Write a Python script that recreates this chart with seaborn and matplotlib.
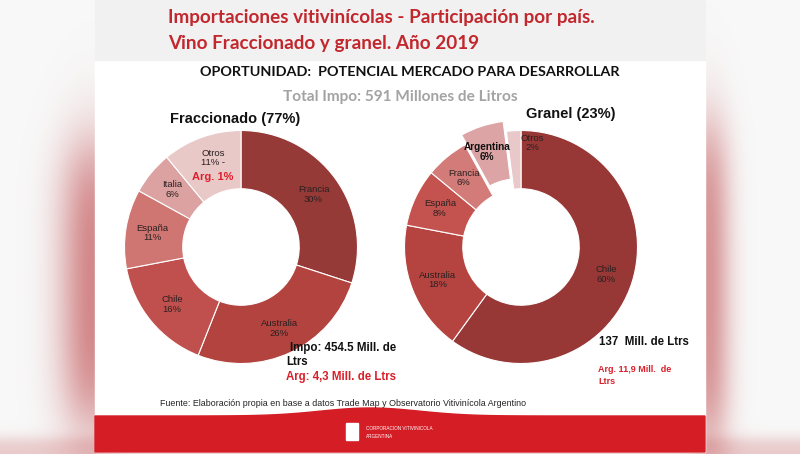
import numpy as np
import matplotlib
matplotlib.use("Agg")
import matplotlib.pyplot as plt
import seaborn as sns
from matplotlib.patches import Rectangle, Polygon

sns.set_theme(style="white")
plt.rcParams['font.family'] = ['Liberation Sans', 'DejaVu Sans']

# ---------------- data ----------------
frac_labels = ["Francia", "Australia", "Chile", "España", "Italia", "Otros"]
frac_values = [30, 26, 16, 11, 6, 11]
gran_labels = ["Chile", "Australia", "España", "Francia", "Argentina", "Otros"]
gran_values = [60, 18, 8, 6, 6, 2]
frac_colors = ["#963a38", "#b3433f", "#c0504d", "#cf7572", "#dca2a1", "#e9c8c8"]
gran_colors = ["#973836", "#b5433f", "#c4534f", "#d27b78", "#dca4a5", "#e8c8c9"]
gran_explode = [0, 0, 0, 0, 0.09, 0]

W, H = 800, 454
fig = plt.figure(figsize=(8, 4.54), dpi=100)

# ---------------- background ----------------
bg = fig.add_axes([0, 0, 1, 1])
bg.set_xlim(0, W)
bg.set_ylim(H, 0)
bg.axis('off')

yy, xx = np.mgrid[0:H, 0:W].astype(float)
img = np.ones((H, W, 3)) * 0.975
pink = np.array([0.80, 0.45, 0.46])
def win(y, a, b, s):
    return 1 / (1 + np.exp(-(y - a) / s)) * 1 / (1 + np.exp((y - b) / s))
left = np.exp(-((xx - 92) / 34) ** 2) * win(yy, 150, 420, 25) * 0.85
right = np.exp(-((xx - 708) / 22) ** 2) * win(yy, 130, 440, 25) * 0.75
bottom = win(yy, 438, 470, 4) * 0.35
m = np.clip(left + right + bottom, 0, 1)[..., None]
img = img * (1 - m) + pink * m
bg.imshow(img, extent=(0, W, H, 0), aspect='auto', zorder=0)

# slide
bg.add_patch(Rectangle((95, 0), 610, 452, color="white", zorder=1))
bg.add_patch(Rectangle((95, 0), 610, 60, color="#f1f1f1", zorder=1))
xs = np.linspace(95, 705, 200)
top = 416 - 8 * np.exp(-((xs - 370) / 70) ** 2)
poly = np.vstack([np.column_stack([xs, top]), [[705, 452], [95, 452]]])
bg.add_patch(Polygon(poly, closed=True, color="#d51d26", zorder=2))
bg.add_patch(Rectangle((346, 423), 12, 17, color="white", zorder=3))
bg.text(366, 429, "CORPORACION VITIVINICOLA", color="white", fontsize=3.3, va="center", zorder=3)
bg.text(366, 436, "ARGENTINA", color="white", fontsize=3.3, va="center", zorder=3)

# ---------------- donuts ----------------
R = 116.5
S = 150

def donut(cx, cy, values, colors, explode):
    ax = fig.add_axes([(cx - S) / W, 1 - (cy + S) / H, 2 * S / W, 2 * S / H])
    ax.pie(values, colors=colors, startangle=90, counterclock=False, radius=1,
           explode=explode,
           wedgeprops=dict(width=0.5, edgecolor="white", linewidth=0.8))
    lim = S / R
    ax.set_xlim(-lim, lim)
    ax.set_ylim(-lim, lim)
    ax.axis('off')
    v = np.array(values, dtype=float)
    cum = np.cumsum(v) - v / 2
    ang = np.deg2rad(90 - 360 * cum / v.sum())
    return ax, ang

ax1, a1 = donut(241, 247, frac_values, frac_colors, None)
for lab, val, a in zip(frac_labels, frac_values, a1):
    if lab == "Otros":
        continue
    ax1.text(0.77 * np.cos(a), 0.77 * np.sin(a), f"{lab}\n{val}%", ha="center", va="center",
             fontsize=6.8, color="#2a2020", linespacing=1.1)
ox, oy = (213 - 241) / R, -(158 - 247) / R
ax1.text(ox, oy, f"Otros\n{frac_values[-1]}% -", ha="center", va="center", fontsize=6.8,
         color="#2a2020", linespacing=1.1)
ax1.text(ox, -(177 - 247) / R, "Arg. 1%", ha="center", va="center", fontsize=8,
         color="#e0202a", fontweight="bold")

ax2, a2 = donut(521, 247, gran_values, gran_colors, gran_explode)
for lab, val, a, e in zip(gran_labels, gran_values, a2, gran_explode):
    r = 0.77 + e
    x, y = r * np.cos(a), r * np.sin(a)
    kw = dict(fontsize=6.8, color="#2a2020")
    if lab == "Argentina":
        kw = dict(fontsize=7.2, color="#111111", fontweight="bold")
        x, y = (487 - 521) / R, -(152 - 247) / R
    if lab == "Otros":
        x, y = (532 - 521) / R, -(143 - 247) / R
    ax2.text(x, y, f"{lab}\n{val}%", ha="center", va="center", linespacing=1.1, **kw)

# ---------------- text overlay ----------------
ov = fig.add_axes([0, 0, 1, 1])
ov.set_xlim(0, W)
ov.set_ylim(H, 0)
ov.axis('off')
ov.patch.set_alpha(0)

tfam = ['Lato', 'DejaVu Sans']
ov.text(168, 17, "Importaciones vitivinícolas - Participación por país.", color="#c1272d",
        fontsize=13.6, fontweight="bold", family=tfam, va="center")
ov.text(168, 44, "Vino Fraccionado y granel. Año 2019", color="#c1272d",
        fontsize=13.6, fontweight="bold", family=tfam, va="center")
ov.text(410, 72, "OPORTUNIDAD:  POTENCIAL MERCADO PARA DESARROLLAR", color="#111111",
        fontsize=10.4, fontweight="bold", family=tfam, ha="center", va="center")
ov.text(400, 97, "Total Impo: 591 Millones de Litros", color="#a3a3a3",
        fontsize=11.1, fontweight="bold", family=tfam, ha="center", va="center")
ov.text(235, 119, "Fraccionado (77%)", color="#111111", fontsize=10.5, fontweight="bold",
        ha="center", va="center")
ov.text(571, 114, "Granel (23%)", color="#111111", fontsize=10.5, fontweight="bold",
        ha="center", va="center")

ov.text(290, 348, "Impo: 454.5 Mill. de", color="#111111", fontsize=8.3, fontweight="bold", va="center")
ov.text(286, 362, "Ltrs", color="#111111", fontsize=8.3, fontweight="bold", va="center")
ov.text(286, 377, "Arg: 4,3 Mill. de Ltrs", color="#d8202a", fontsize=8.3, fontweight="bold", va="center")
ov.text(599, 342, "137  Mill. de Ltrs", color="#111111", fontsize=8.3, fontweight="bold", va="center")
ov.text(598, 369, "Arg. 11,9 Mill.  de", color="#d8202a", fontsize=6.5, fontweight="bold", va="center")
ov.text(598, 381, "Ltrs", color="#d8202a", fontsize=6.5, fontweight="bold", va="center")
ov.text(343, 403, "Fuente: Elaboración propia en base a datos Trade Map y Observatorio Vitivinícola Argentino",
        color="#222222", fontsize=6.4, ha="center", va="center")

fig.savefig("out.png", dpi=100)
